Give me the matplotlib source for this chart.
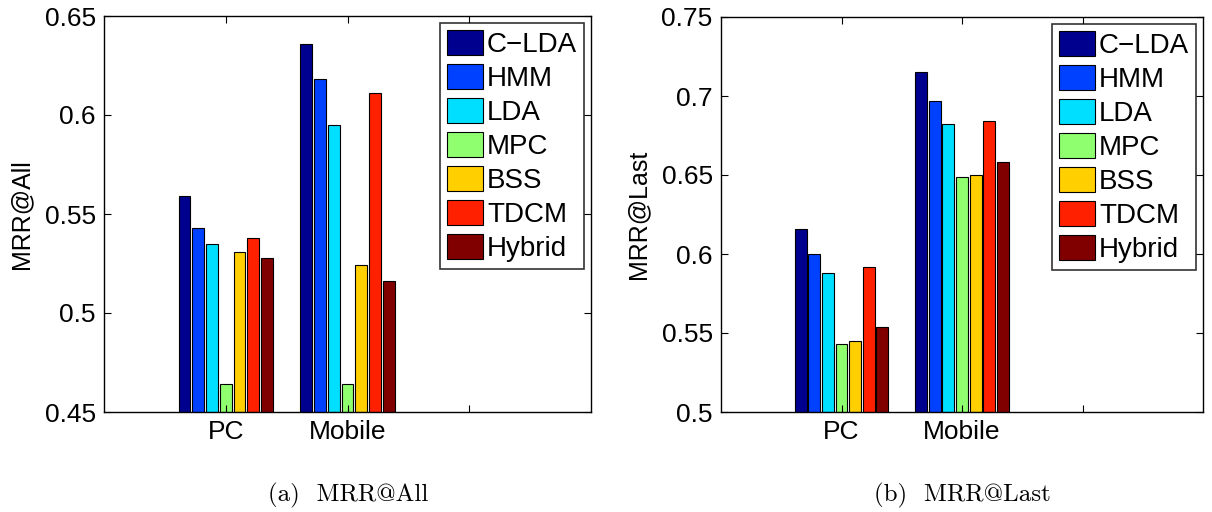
import matplotlib
matplotlib.use("Agg")
import matplotlib.pyplot as plt
import numpy as np

plt.rcParams["font.family"] = ["Liberation Sans", "DejaVu Sans"]

methods = ["C\u2212LDA", "HMM", "LDA", "MPC", "BSS", "TDCM", "Hybrid"]
colors = ["#00008f", "#0040ff", "#00dfff", "#8fff70", "#ffcf00", "#ff2000", "#800000"]
groups = ["PC", "Mobile"]

# values, one row per method: [PC, Mobile]
mrr_all = [
    [0.559, 0.636],
    [0.543, 0.618],
    [0.535, 0.595],
    [0.464, 0.464],
    [0.531, 0.524],
    [0.538, 0.611],
    [0.528, 0.516],
]
mrr_last = [
    [0.616, 0.715],
    [0.600, 0.697],
    [0.588, 0.682],
    [0.543, 0.649],
    [0.545, 0.650],
    [0.592, 0.684],
    [0.554, 0.658],
]


def draw(ax, data, ylim, yticks, ylabel):
    x = np.arange(1, len(groups) + 1)
    step = 0.113
    for i, (m, c) in enumerate(zip(methods, colors)):
        off = (i - (len(methods) - 1) / 2) * step
        ax.bar(x + off, [v - ylim[0] for v in data[i]], width=0.098, bottom=ylim[0],
               color=c, edgecolor="black", linewidth=0.8, label=m)
    ax.set_xlim(0, 4)
    ax.set_ylim(*ylim)
    ax.set_xticks([1, 2, 3])
    ax.set_xticklabels(groups + [""])
    ax.set_yticks(yticks)
    ax.set_yticklabels([f"{t:g}" for t in yticks])
    ax.tick_params(direction="in", top=True, right=True, labelsize=19, length=5, pad=6)
    ax.set_ylabel(ylabel, fontsize=18, labelpad=8)
    for s in ax.spines.values():
        s.set_linewidth(1.0)
    leg = ax.legend(loc="upper right", fontsize=20, frameon=True, fancybox=False,
                    edgecolor="black", handlelength=1.3, handleheight=1.0,
                    handletextpad=0.15, labelspacing=0.22, borderpad=0.25,
                    borderaxespad=0.25)
    leg.get_frame().set_linewidth(1.2)


fig = plt.figure(figsize=(12.12, 5.12), dpi=100)
ax1 = fig.add_axes([104 / 1212, 100 / 512, 487 / 1212, 396 / 512])
ax2 = fig.add_axes([721 / 1212, 100 / 512, 482 / 1212, 395 / 512])

draw(ax1, mrr_all, (0.45, 0.65), [0.45, 0.5, 0.55, 0.6, 0.65], "MRR@All")
draw(ax2, mrr_last, (0.5, 0.75), [0.5, 0.55, 0.6, 0.65, 0.7, 0.75], "MRR@Last")

fig.text(348 / 1212, 17 / 512, "(a)  MRR@All", ha="center", va="center",
         fontsize=18, family=["cmr10", "DejaVu Serif"])
fig.text(962 / 1212, 17 / 512, "(b)  MRR@Last", ha="center", va="center",
         fontsize=18, family=["cmr10", "DejaVu Serif"])

fig.savefig("out.png", dpi=100)
